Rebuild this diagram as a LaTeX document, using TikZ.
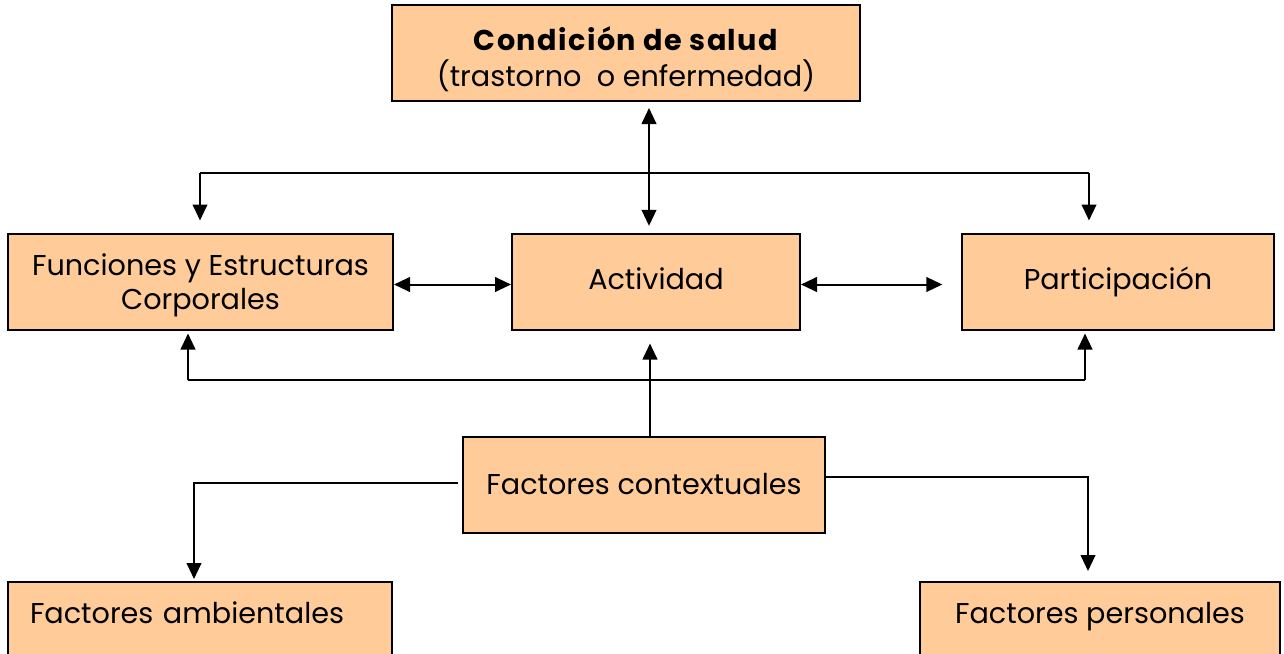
\documentclass[tikz,border=0pt]{standalone}
\usepackage{fontspec}
\setmainfont{Poppins}
\usetikzlibrary{arrows.meta}
\definecolor{peach}{HTML}{FFCC99}

\begin{document}
\begin{tikzpicture}[x=0.75pt,y=-0.75pt,
    caja/.style={draw=black, line width=1.5pt, fill=peach, inner sep=0pt,
      minimum height=72pt, font=\fontsize{21.5}{25}\selectfont, align=center,
      text height=16pt, text depth=4.5pt},
    flecha/.style={line width=1.5pt, -{Triangle[length=12pt,width=11pt]}},
    doble/.style={line width=1.5pt, {Triangle[length=12pt,width=11pt]}-{Triangle[length=12pt,width=11pt]}},
    linea/.style={line width=1.5pt}]
  \useasboundingbox[fill=white] (0,0) rectangle (1284,653);

  \node[caja, minimum width=351pt, text height=54pt,
    font=\fontsize{21.5}{27}\selectfont] (cond) at (626,53)
    {{\bfseries\addfontfeature{LetterSpace=5}Condición de salud}\\(trastorno~ o enfermedad)};
  \node[caja, minimum width=288.75pt, text height=45.75pt] (func) at (200.5,281.5)
    {Funciones y Estructuras\\Corporales};
  \node[caja, minimum width=216pt] (act) at (656,281.5) {Actividad};
  \node[caja, minimum width=234pt] (part) at (1118,281.5) {Participación};
  \node[caja, minimum width=271.5pt, text height=18pt] (ctx) at (644,485) {Factores contextuales};
  \node[caja, minimum width=288pt, text width=255pt, align=left, text depth=26.5pt]
    (amb) at (200,630) {Factores ambientales};
  \node[caja, minimum width=270pt, text depth=26.5pt] (pers) at (1100,630)
    {Factores personales};

  \coordinate (arribaI) at (200,173);
  \coordinate (arribaD) at (1089,173);
  \coordinate (abajoI) at (188,380);
  \coordinate (abajoD) at (1085,380);
  \coordinate (ctxI) at (458,483);
  \coordinate (ctxD) at (1088,477);

  \draw[doble, shorten <=4.5pt, shorten >=5pt] (cond.south -| 649,0) -- (act.north -| 649,0);
  \draw[linea] (arribaI) -- (arribaD);
  \draw[flecha, shorten >=9pt] (arribaI) -- (arribaI |- func.north);
  \draw[flecha, shorten >=9pt] (arribaD) -- (arribaD |- part.north);

  \draw[doble] ([yshift=-2.25pt]func.east) -- ([yshift=-2.25pt]act.west);
  \draw[doble, shorten >=14pt] ([yshift=-2.25pt]act.east) -- ([yshift=-2.25pt]part.west);

  \draw[linea] (abajoI) -- (abajoD);
  \draw[flecha, shorten >=2.25pt] (abajoI) -- (abajoI |- func.south);
  \draw[flecha, shorten >=2.25pt] (abajoD) -- (abajoD |- part.south);
  \draw[flecha, shorten >=9.75pt] (ctx.north -| 650,0) -- (act.south -| 650,0);

  \draw[flecha, shorten >=1.5pt] (ctxI) -| (amb.north -| 194,0);
  \draw[flecha, shorten >=7.5pt] (ctx.east |- ctxD) -- (ctxD) -- (ctxD |- pers.north);
\end{tikzpicture}
\end{document}
